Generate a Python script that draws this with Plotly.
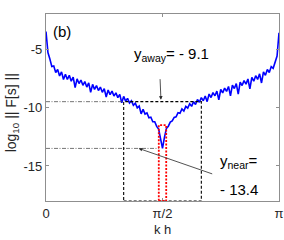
import numpy as np
import plotly.graph_objects as go

# ---- data ----
log_F = [
    -3.5, -5.3, -5.85, -6.5, -6.45, -7.0, -6.75, -7.3, -6.95, -7.6,
    -7.15, -7.6, -7.25, -7.75, -7.4, -8.3, -7.55, -7.95, -7.65, -8.1,
    -7.78, -8.25, -7.9, -8.7, -8.02, -8.45, -8.12, -8.55, -8.25, -8.7,
    -8.38, -9.1, -8.5, -8.9, -8.6, -9.02, -8.75, -9.15, -8.88, -9.6,
    -9.05, -9.45, -9.22, -9.62, -9.42, -9.82, -9.64, -10.03, -9.88, -10.55,
    -10.15, -10.56, -10.47, -10.88, -10.83, -11.22, -11.22, -11.62, -11.85, -12.6,
    -13.5,
    -12.55, -11.8, -11.6, -11.25, -11.15, -10.85, -10.8, -10.45, -10.5, -10.12,
    -10.3, -9.9, -10.05, -9.68, -9.9, -9.5, -9.75, -9.32, -9.55, -9.15,
    -9.42, -9.02, -9.5, -8.85, -9.15, -8.72, -9.0, -8.6, -9.35, -8.46,
    -8.75, -8.34, -8.62, -8.2, -9.0, -8.08, -8.38, -7.95, -8.85, -7.82,
    -8.12, -7.7, -8.0, -7.56, -8.4, -7.42, -7.75, -7.28, -7.6, -7.12,
    -7.9, -6.95, -7.25, -6.75, -7.0, -6.5, -6.65, -6.2, -5.6, -3.6,
]
kh = np.linspace(0, np.pi, len(log_F))

y_away_line = -9.5
y_near_line = -13.5
y_bottom = -18
y_top = -2
box_x = [np.pi / 3, 2 * np.pi / 3]
red_x = [np.pi / 2 - 0.05, np.pi / 2 + 0.05]
red_top = -11.5

x_tickvals = [0, np.pi / 2, np.pi]
x_ticktext = ["0", "π/2", "π"]
y_tickvals = [-15, -10, -5]
y_ticktext = ["-15", "-10", "-5"]

FONT = "Liberation Sans, Arial, sans-serif"
TXT = "#262626"

fig = go.Figure()
fig.add_trace(go.Scatter(x=kh, y=log_F, mode="lines",
                         line=dict(color="#0000ff", width=1.6),
                         showlegend=False, hoverinfo="skip"))

shapes = [
    dict(type="line", x0=0, x1=box_x[0], y0=y_away_line, y1=y_away_line,
         line=dict(color="#505050", width=0.8, dash="4px,1.5px,1px,1.5px")),
    dict(type="line", x0=0, x1=red_x[0], y0=y_near_line, y1=y_near_line,
         line=dict(color="#505050", width=0.8, dash="4px,1.5px,1px,1.5px")),
    dict(type="rect", x0=box_x[0], x1=box_x[1], y0=y_bottom, y1=y_away_line,
         line=dict(color="black", width=1.1, dash="3px,2px")),
    dict(type="rect", x0=red_x[0], x1=red_x[1], y0=y_bottom, y1=red_top,
         line=dict(color="red", width=1.8, dash="2px,1.5px")),
]

annotations = [
    dict(x=0.02, y=0.909, xref="paper", yref="paper", text="(b)", showarrow=False,
         font=dict(size=15, color="black", family=FONT), xanchor="left", yanchor="middle"),
    dict(x=1.69, y=-5.5, xref="x", yref="y", text="y<sub>away</sub>= - 9.1",
         showarrow=False, font=dict(size=15, color="black", family=FONT)),
    dict(x=np.pi / 2 - 0.02, y=y_away_line, xref="x", yref="y", text="", showarrow=True,
         ax=-1, ay=-24, arrowhead=2, arrowsize=0.9, arrowwidth=0.8, arrowcolor="#262626",
         standoff=2),
    dict(x=2.885, y=-14.6, xref="x", yref="y", text="y<sub>near</sub>=",
         showarrow=False, font=dict(size=15, color="black", family=FONT), xanchor="right"),
    dict(x=2.885, y=-17.0, xref="x", yref="y", text="- 13.4",
         showarrow=False, font=dict(size=15, color="black", family=FONT), xanchor="right"),
    dict(x=1.25, y=y_near_line, xref="x", yref="y", text="", showarrow=True,
         ax=75, ay=26, arrowhead=2, arrowsize=0.9, arrowwidth=0.8, arrowcolor="#262626"),
    # axis titles
    dict(x=0.5, y=-0.153, xref="paper", yref="paper", text="k h", showarrow=False,
         font=dict(size=13, color=TXT, family=FONT), xanchor="center", yanchor="middle"),
    dict(x=-0.145, y=0.47, xref="paper", yref="paper", text="log<sub>10</sub> || F[s] ||",
         showarrow=False, textangle=-90, xanchor="center", yanchor="middle",
         font=dict(size=14, color=TXT, family=FONT)),
]

fig.update_layout(
    width=284, height=240,
    margin=dict(l=46, r=5, t=14, b=39, autoexpand=False),
    paper_bgcolor="white", plot_bgcolor="white",
    font=dict(family=FONT, size=13, color=TXT),
    shapes=shapes, annotations=annotations,
    xaxis=dict(range=[0, np.pi], tickvals=x_tickvals, ticktext=x_ticktext,
               showgrid=False, zeroline=False, showline=True, linecolor="#8f8f8f",
               linewidth=1.3, mirror="ticks", ticks="inside", ticklen=3,
               tickcolor="#8f8f8f", automargin=False,
               tickfont=dict(size=13, color=TXT)),
    yaxis=dict(range=[y_bottom, y_top], tickvals=y_tickvals, ticktext=y_ticktext,
               showgrid=False, zeroline=False, showline=True, linecolor="#8f8f8f",
               linewidth=1.3, mirror="ticks", ticks="inside", ticklen=3,
               tickcolor="#8f8f8f", automargin=False,
               tickfont=dict(size=13, color=TXT)),
)

fig.write_html("out.html", config={"displayModeBar": False},
               post_script="document.body.style.margin='0';")
